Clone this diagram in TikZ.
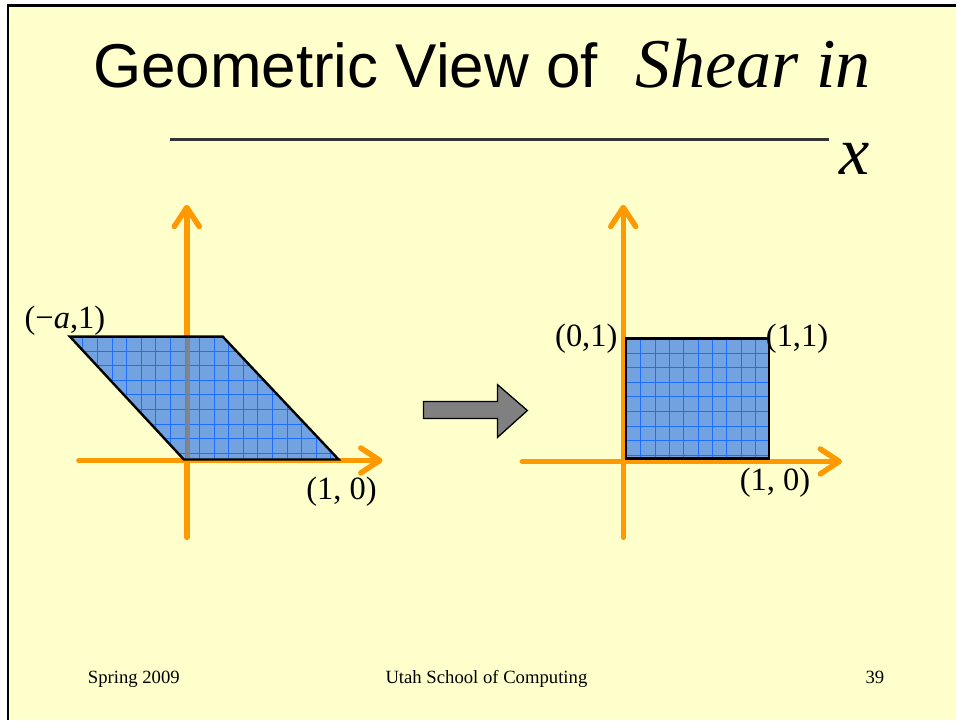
\documentclass[tikz,border=0pt]{standalone}
\usepackage{fontspec}
\setmainfont{Liberation Serif}
\newfontfamily\arialfont{Liberation Sans}
\usetikzlibrary{positioning,calc,arrows.meta}
\definecolor{slidebg}{HTML}{FFFFCC}
\definecolor{axisorange}{HTML}{FF9900}
\definecolor{shapeblue}{HTML}{72A2E0}
\definecolor{gridblue}{HTML}{1F6FFF}
\definecolor{rulegray}{HTML}{333333}

\begin{document}
\begin{tikzpicture}[x=1pt, y=-1pt,
  axis/.style={axisorange, line width=5.5pt, line cap=round, -{Straight Barb[length=19pt, width=25pt, round]}},
  outline/.style={draw=black, line width=2.4pt, line join=miter},
  gridline/.style={gridblue, line width=0.9pt},
  coord/.style={inner sep=0pt, font=\fontsize{32.5}{33}\selectfont},
  footer/.style={inner sep=0pt, anchor=base, font=\fontsize{18.7}{20}\selectfont}
]
% slide background and frame
\fill[white] (0,0) rectangle (957,721);
\fill[slidebg] (8,5.5) rectangle (957,721);
\draw[black, line width=2.3pt] (8,721) -- (8,5.5) -- (957,5.5);

% title
\node[anchor=base west, inner sep=0pt] (title) at (93,88)
  {\arialfont\fontsize{62}{62}\selectfont Geometric View of\hspace{38pt}{\rmfamily\itshape\fontsize{70}{70}\selectfont Shear in}};
\draw[rulegray, line width=3pt] (170,140) -- (830,140);
\node[anchor=base west, inner sep=0pt] (xvar) at (840,175) {\fontsize{68}{68}\selectfont\itshape x};

% left: sheared square
\draw[axis] (79,461) -- (383,461);
\draw[axis] (187,538) -- (187,205);
\begin{scope}
  \clip (70,337) -- (223,337) -- (339,460) -- (184,460) -- cycle;
  \fill[shapeblue] (70,337) rectangle (339,460);
  \foreach \gx in {0,...,18} \draw[gridline] ({83+14.6*\gx},337) -- ({83+14.6*\gx},460);
  \foreach \gy in {1,...,8} \draw[gridline] (70,{337+14.6*\gy}) -- (339,{337+14.6*\gy});
\end{scope}
\draw[gray, opacity=0.85, line width=5pt] (187.5,338) -- (187.5,459);
\draw[outline] (70,337) -- (223,337) -- (339,460) -- (184,460) -- cycle;

\node[coord] (leftA) at (65,321) {(−\textit{a},1)};
\node[coord] (leftB) at (342,492) {(1, 0)};

% transform arrow
\draw[fill=gray, draw=black, line width=1.3pt, line join=miter]
  (424,402) -- (498,402) -- (498,385) -- (528,411) -- (498,438) -- (498,419) -- (424,419) -- cycle;

% right: unit square
\draw[axis] (523,462) -- (843,462);
\draw[axis] (624,538) -- (624,205);
\fill[shapeblue] (627,339) rectangle (770,459);
\begin{scope}
  \clip (627,339) rectangle (770,459);
  \foreach \gx in {1,...,9} \draw[gridline] ({627+14.4*\gx},339) -- ({627+14.4*\gx},459);
  \foreach \gy in {1,...,8} \draw[gridline] (627,{339+14.6*\gy}) -- (770,{339+14.6*\gy});
\end{scope}
\draw[outline] (627,339) rectangle (770,459);

\node[coord] (rightA) at (587,339) {(0,1)};
\node[coord] (rightB) at (798,339) {(1,1)};
\node[coord] (rightC) at (776,483) {(1, 0)};

% footer
\node[footer] (season) at (134,684) {Spring 2009};
\node[footer] (school) at (487,684) {Utah School of Computing};
\node[footer] (page) at (876,684) {39};
\end{tikzpicture}
\end{document}
